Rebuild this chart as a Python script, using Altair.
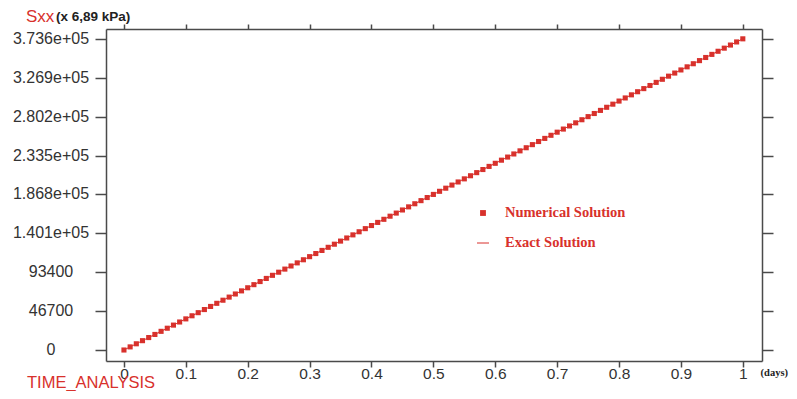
import altair as alt
import pandas as pd

RED = "#d8312c"

# Numerical solution (time in days, Sxx in units of 6.89 kPa)
num_t = [0.00, 0.01, 0.02, 0.03, 0.04, 0.05, 0.06, 0.07, 0.08, 0.09,
         0.10, 0.11, 0.12, 0.13, 0.14, 0.15, 0.16, 0.17, 0.18, 0.19,
         0.20, 0.21, 0.22, 0.23, 0.24, 0.25, 0.26, 0.27, 0.28, 0.29,
         0.30, 0.31, 0.32, 0.33, 0.34, 0.35, 0.36, 0.37, 0.38, 0.39,
         0.40, 0.41, 0.42, 0.43, 0.44, 0.45, 0.46, 0.47, 0.48, 0.49,
         0.50, 0.51, 0.52, 0.53, 0.54, 0.55, 0.56, 0.57, 0.58, 0.59,
         0.60, 0.61, 0.62, 0.63, 0.64, 0.65, 0.66, 0.67, 0.68, 0.69,
         0.70, 0.71, 0.72, 0.73, 0.74, 0.75, 0.76, 0.77, 0.78, 0.79,
         0.80, 0.81, 0.82, 0.83, 0.84, 0.85, 0.86, 0.87, 0.88, 0.89,
         0.90, 0.91, 0.92, 0.93, 0.94, 0.95, 0.96, 0.97, 0.98, 0.99,
         1.00]
num_s = [0, 3736, 7472, 11208, 14944, 18680, 22416, 26152, 29888, 33624,
         37360, 41096, 44832, 48568, 52304, 56040, 59776, 63512, 67248, 70984,
         74720, 78456, 82192, 85928, 89664, 93400, 97136, 100872, 104608, 108344,
         112080, 115816, 119552, 123288, 127024, 130760, 134496, 138232, 141968, 145704,
         149440, 153176, 156912, 160648, 164384, 168120, 171856, 175592, 179328, 183064,
         186800, 190536, 194272, 198008, 201744, 205480, 209216, 212952, 216688, 220424,
         224160, 227896, 231632, 235368, 239104, 242840, 246576, 250312, 254048, 257784,
         261520, 265256, 268992, 272728, 276464, 280200, 283936, 287672, 291408, 295144,
         298880, 302616, 306352, 310088, 313824, 317560, 321296, 325032, 328768, 332504,
         336240, 339976, 343712, 347448, 351184, 354920, 358656, 362392, 366128, 369864,
         373600]

# Exact solution
exact_t = [0.0, 1.0]
exact_s = [0, 373600]

# Axis ticks
y_ticks = [0, 46700, 93400, 140100, 186800, 233500, 280200, 326900, 373600]
y_labels = ["0", "46700", "93400", "1.401e+05", "1.868e+05", "2.335e+05",
            "2.802e+05", "3.269e+05", "3.736e+05"]
x_ticks = [0, 0.1, 0.2, 0.3, 0.4, 0.5, 0.6, 0.7, 0.8, 0.9, 1.0]
x_labels = ["0", "0.1", "0.2", "0.3", "0.4", "0.5", "0.6", "0.7", "0.8", "0.9", "1"]

legend_names = ["Numerical Solution", "Exact Solution"]

num_df = pd.DataFrame({"t": num_t, "s": num_s})
exact_df = pd.DataFrame({"t": exact_t, "s": exact_s})
ylab_df = pd.DataFrame({"v": y_ticks, "l": y_labels})

x_expr = "[" + ",".join('"%s"' % l for l in x_labels) + "][round(datum.value*10)]"

xscale = alt.Scale(domain=[-0.029, 1.031], nice=False, zero=False)
yscale = alt.Scale(domain=[-13200, 385400], nice=False, zero=False)

axis_common = dict(grid=False, domainColor="#4a4a4a", domainWidth=1.5,
                   tickColor="#4a4a4a", tickWidth=1.5,
                   labelFont="Liberation Sans", labelFontSize=15.5,
                   labelColor="#333333", title=None)

x_bottom = alt.Axis(orient="bottom", values=x_ticks, labelExpr=x_expr,
                    tickSize=6, labelPadding=-1, **axis_common)
y_left = alt.Axis(orient="left", values=y_ticks, labels=False, tickSize=11, **axis_common)
x_top = alt.Axis(orient="top", values=x_ticks, labels=False, tickSize=5, **axis_common)
y_right = alt.Axis(orient="right", values=y_ticks, labels=False, tickSize=11, **axis_common)

exact = alt.Chart(exact_df).mark_line(color=RED, strokeWidth=1).encode(
    x=alt.X("t:Q", scale=xscale, axis=x_top),
    y=alt.Y("s:Q", scale=yscale, axis=y_right),
)

points = alt.Chart(num_df).mark_square(color=RED, size=26, opacity=1).encode(
    x=alt.X("t:Q", scale=xscale, axis=x_bottom),
    y=alt.Y("s:Q", scale=yscale, axis=y_left),
)

# y tick labels, centred in the left margin (as in the reference)
ylabels = alt.Chart(ylab_df).mark_text(
    font="Liberation Sans", fontSize=16, color="#333333",
    align="center", baseline="middle", clip=False
).encode(
    y=alt.Y("v:Q", scale=yscale, axis=None),
    x=alt.value(-55),
    text="l:N",
)

def txt(s, x, y, color, font, size, weight="normal", align="left", baseline="middle"):
    return alt.Chart(pd.DataFrame({"s": [s]})).mark_text(
        color=color, font=font, fontSize=size, fontWeight=weight,
        align=align, baseline=baseline, clip=False
    ).encode(text="s:N", x=alt.value(x), y=alt.value(y))

# legend
leg_sq = alt.Chart(pd.DataFrame({"a": [0]})).mark_square(color=RED, size=34, opacity=1).encode(
    x=alt.value(377), y=alt.value(184))
leg_ln = alt.Chart(pd.DataFrame({"a": [0]})).mark_rule(color=RED, strokeWidth=1).encode(
    x=alt.value(371), x2=alt.value(383), y=alt.value(214))
leg1 = txt(legend_names[0], 399, 184, RED, "Liberation Serif", 14.5, "bold")
leg2 = txt(legend_names[1], 399, 214, RED, "Liberation Serif", 14.5, "bold")

sxx = txt("Sxx", -80, -12, RED, "Liberation Sans", 17)
unit = txt("(x  6,89 kPa)", -50, -12, "#222222", "Liberation Sans", 13.5, "bold")
tim = txt("TIME_ANALYSIS", -79, 359, RED, "Liberation Sans", 16.5, baseline="alphabetic")
days = txt("(days)", 682, 344, "#222222", "Liberation Serif", 10.5, "bold", align="right")

chart = alt.layer(exact, points, ylabels, leg_sq, leg_ln, leg1, leg2, sxx, unit, tim, days).resolve_axis(
    x="independent", y="independent"
).resolve_scale(x="shared", y="shared").properties(
    width=656, height=332,
    autosize=alt.AutoSizeParams(type="none"),
    padding={"left": 98, "top": 21, "right": 27, "bottom": 30},
    background="white",
).configure_view(stroke=None)

chart.save("out.html", embed_options={"renderer": "svg", "actions": False})
